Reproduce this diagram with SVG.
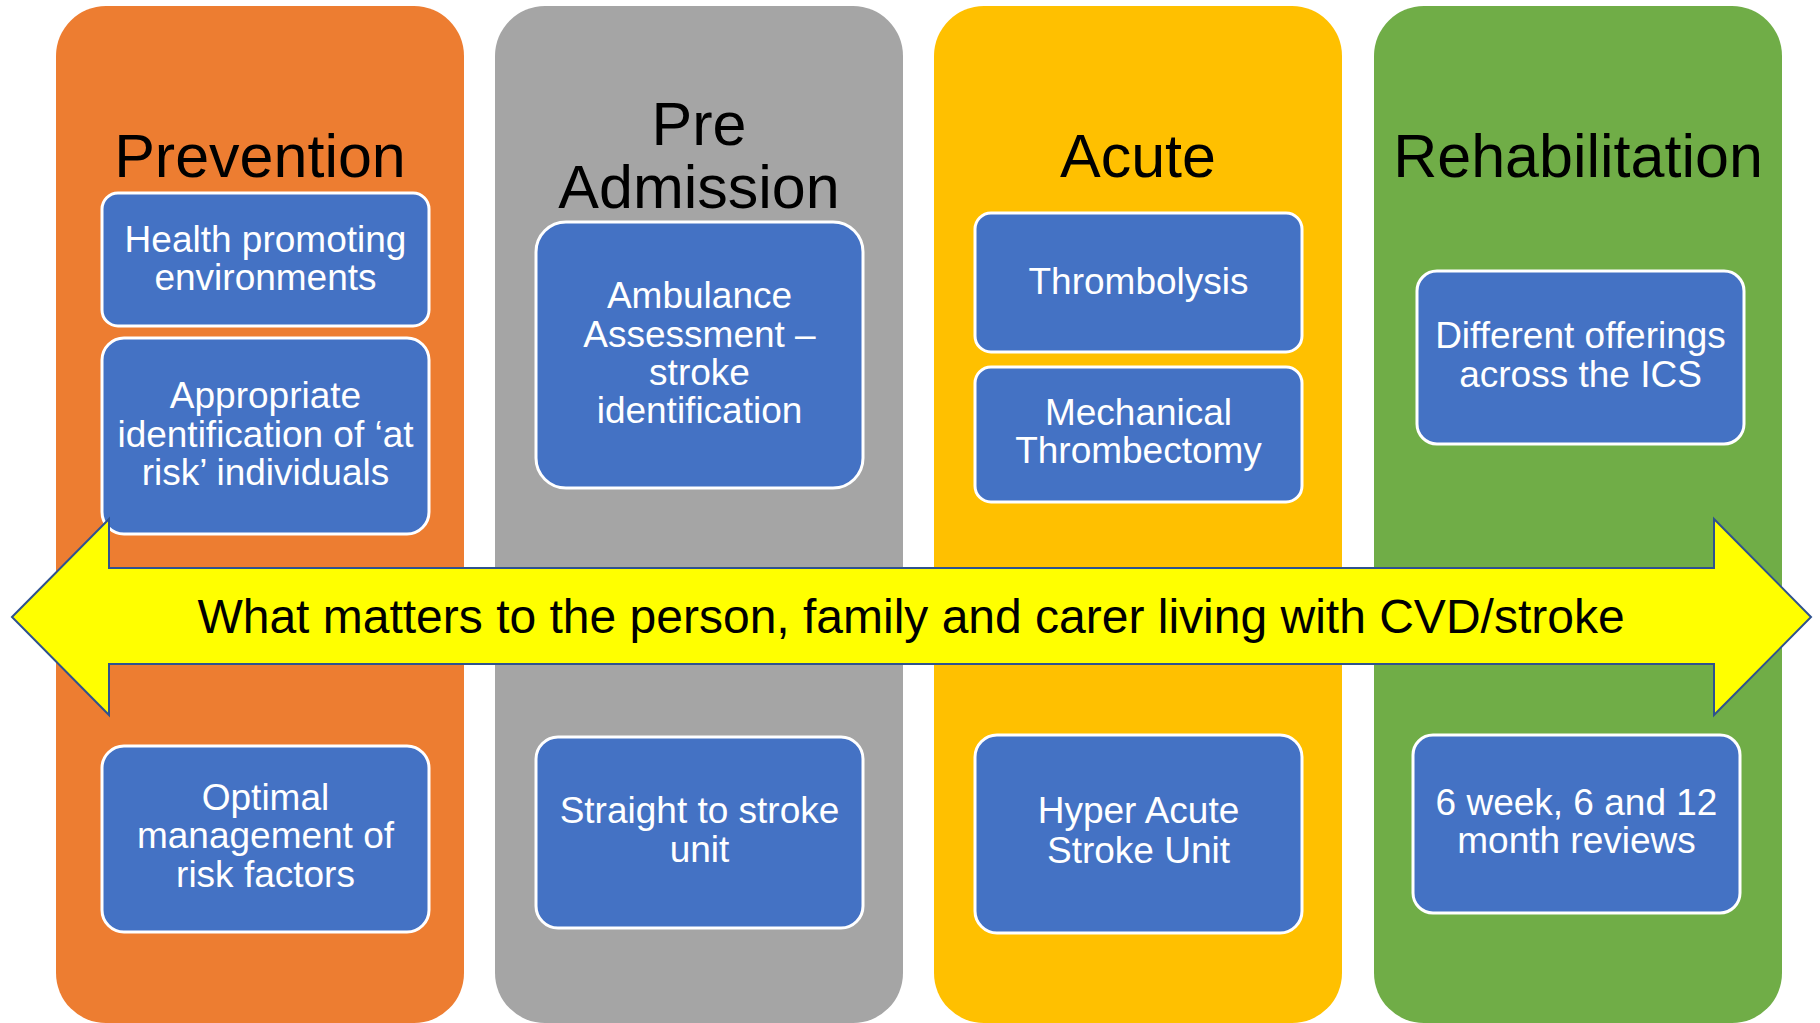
<svg xmlns="http://www.w3.org/2000/svg" width="1820" height="1023" viewBox="0 0 1820 1023">
<style>
.col{stroke:none}
.box{fill:#4472C4;stroke:#FFFFFF;stroke-width:3}
.title{font-family:"Liberation Sans",Arial,sans-serif;font-size:61px;fill:#000000;text-anchor:middle}
.bt{font-family:"Liberation Sans",Arial,sans-serif;font-size:37px;fill:#FFFFFF;text-anchor:middle}
.at{font-family:"Liberation Sans",Arial,sans-serif;font-size:48px;fill:#000000;text-anchor:middle}
</style>
<rect width="1820" height="1023" fill="#FFFFFF"/>
<g id="col-prevention">
<rect class="col" x="56" y="6" width="408" height="1017" rx="50" fill="#ED7D31"/>
<text class="title" x="260" y="177">Prevention</text>
</g>
<g id="col-preadmission">
<rect class="col" x="495" y="6" width="408" height="1017" rx="50" fill="#A5A5A5"/>
<text class="title" x="699" y="145">Pre</text>
<text class="title" x="699" y="208">Admission</text>
</g>
<g id="col-acute">
<rect class="col" x="934" y="6" width="408" height="1017" rx="50" fill="#FFC000"/>
<text class="title" x="1138" y="177">Acute</text>
</g>
<g id="col-rehab">
<rect class="col" x="1374" y="6" width="408" height="1017" rx="50" fill="#70AD47"/>
<text class="title" x="1578" y="177">Rehabilitation</text>
</g>
<g id="box-health">
<rect class="box" x="102" y="193" width="327" height="133" rx="16"/>
<text class="bt" x="265.5" y="252">Health promoting</text>
<text class="bt" x="265.5" y="290">environments</text>
</g>
<g id="box-atrisk">
<rect class="box" x="102" y="338" width="327" height="196" rx="22"/>
<text class="bt" x="265.5" y="408">Appropriate</text>
<text class="bt" x="265.5" y="447">identification of ‘at</text>
<text class="bt" x="265.5" y="485">risk’ individuals</text>
</g>
<g id="box-optimal">
<rect class="box" x="102" y="746" width="327" height="186" rx="22"/>
<text class="bt" x="265.5" y="810">Optimal</text>
<text class="bt" x="265.5" y="848">management of</text>
<text class="bt" x="265.5" y="887">risk factors</text>
</g>
<g id="box-ambulance">
<rect class="box" x="536" y="222" width="327" height="266" rx="30"/>
<text class="bt" x="699.5" y="308">Ambulance</text>
<text class="bt" x="699.5" y="347">Assessment –</text>
<text class="bt" x="699.5" y="385">stroke</text>
<text class="bt" x="699.5" y="423">identification</text>
</g>
<g id="box-straight">
<rect class="box" x="536" y="737" width="327" height="191" rx="22"/>
<text class="bt" x="699.5" y="823">Straight to stroke</text>
<text class="bt" x="699.5" y="862">unit</text>
</g>
<g id="box-thrombolysis">
<rect class="box" x="975" y="213" width="327" height="139" rx="16"/>
<text class="bt" x="1138.5" y="294">Thrombolysis</text>
</g>
<g id="box-thrombectomy">
<rect class="box" x="975" y="367" width="327" height="135" rx="16"/>
<text class="bt" x="1138.5" y="425">Mechanical</text>
<text class="bt" x="1138.5" y="463">Thrombectomy</text>
</g>
<g id="box-hasu">
<rect class="box" x="975" y="735" width="327" height="198" rx="22"/>
<text class="bt" x="1138.5" y="823">Hyper Acute</text>
<text class="bt" x="1138.5" y="863">Stroke Unit</text>
</g>
<g id="box-offerings">
<rect class="box" x="1417" y="271" width="327" height="173" rx="20"/>
<text class="bt" x="1580.5" y="348">Different offerings</text>
<text class="bt" x="1580.5" y="387">across the ICS</text>
</g>
<g id="box-reviews">
<rect class="box" x="1413" y="735" width="327" height="178" rx="20"/>
<text class="bt" x="1576.5" y="815">6 week, 6 and 12</text>
<text class="bt" x="1576.5" y="853">month reviews</text>
</g>
<g id="connectors">
<g id="arrow-whatmatters">
<polygon points="12,617 109,519 109,568 1714,568 1714,519 1811,617 1714,715 1714,664 109,664 109,715" fill="#FFFF00" stroke="#2F528F" stroke-width="2" stroke-linejoin="miter"/>
<text class="at" x="911" y="633">What matters to the person, family and carer living with CVD/stroke</text>
</g>
</g>
</svg>
